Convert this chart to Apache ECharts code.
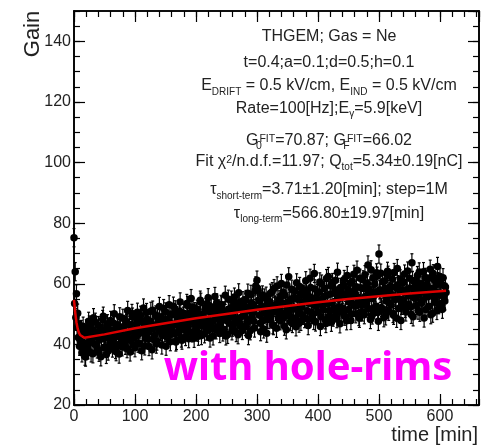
<!DOCTYPE html>
<html>
<head>
<meta charset="utf-8">
<script src="https://cdn.jsdelivr.net/npm/echarts@6.0.0/dist/echarts.min.js"></script>
<style>
  html, body { margin: 0; padding: 0; background: #fff; }
  #chart { width: 481px; height: 446px; }
</style>
</head>
<body>
<div id="chart"></div>
<script>
// Gain samples: one array for even minutes (t = 0, 2, 4, ...), one for odd minutes (t = 1, 3, 5, ...)
const gainEvenMin = [
  75.2, 64.0, 56.7, 50.3, 46.8, 41.2, 44.9, 38.6, 43.5, 36.1,
  45.1, 39.4, 47.6, 41.0, 37.2, 44.3, 48.8, 40.1, 43.7, 38.5,
  46.2, 41.5, 35.9, 44.8, 49.3, 42.0, 39.1, 45.7, 37.8, 43.9,
  47.9, 40.6, 44.2, 50.1, 38.3, 42.7, 46.5, 36.8, 45.3, 41.2,
  48.6, 43.1, 39.7, 46.9, 51.2, 41.8, 37.5, 44.6, 49.0, 42.3,
  38.9, 46.7, 50.6, 43.4, 40.2, 47.8, 44.1, 52.0, 39.5, 45.9,
  48.3, 41.7, 44.8, 50.9, 38.2, 46.4, 43.0, 49.7, 41.1, 47.2,
  52.5, 44.3, 39.8, 48.1, 45.6, 50.7, 42.4, 47.5, 53.1, 40.9,
  46.8, 49.9, 43.6, 51.4, 41.3, 48.2, 45.0, 54.0, 42.1, 47.7,
  50.3, 44.7, 46.9, 52.8, 41.9, 48.6, 55.1, 43.8, 47.4, 50.8,
  45.2, 51.6, 42.7, 49.4, 53.9, 46.1, 48.8, 43.5, 52.2, 47.0,
  55.4, 44.9, 50.6, 47.3, 42.8, 51.9, 48.4, 53.7, 45.8, 49.9,
  46.6, 52.9, 44.1, 50.4, 56.2, 47.9, 43.3, 51.5, 49.0, 54.6,
  45.7, 50.9, 53.4, 43.9, 48.3, 57.0, 46.2, 51.8, 44.6, 52.7,
  49.5, 54.8, 47.1, 42.9, 51.2, 56.5, 48.7, 53.0, 45.4, 59.3,
  61.2, 57.8, 49.6, 44.2, 52.5, 47.9, 55.3, 50.1, 43.7, 53.9,
  48.2, 56.9, 51.0, 46.5, 58.4, 52.8, 45.3, 50.6, 54.7, 47.8,
  60.1, 53.6, 48.9, 56.2, 44.8, 51.7, 62.3, 49.4, 55.0, 46.9,
  52.3, 57.6, 45.8, 54.9, 50.2, 59.1, 47.6, 53.8, 56.4, 48.5,
  61.0, 51.1, 46.2, 55.7, 58.8, 49.9, 53.2, 63.4, 47.4, 54.6,
  50.8, 57.3, 45.9, 59.9, 52.6, 55.8, 48.1, 61.7, 53.5, 49.2,
  56.6, 47.3, 60.4, 52.1, 58.0, 50.4, 63.8, 54.9, 46.8, 57.5,
  52.0, 59.6, 49.3, 56.1, 62.7, 51.5, 55.4, 47.9, 60.8, 53.3,
  57.9, 50.1, 64.5, 54.2, 48.6, 58.7, 52.9, 61.3, 49.8, 56.0,
  53.7, 66.2, 58.3, 48.2, 55.1, 61.9, 51.4, 57.0, 63.6, 50.5,
  69.8, 56.8, 52.2, 60.7, 48.8, 58.5, 54.3, 64.1, 50.9, 57.4,
  53.0, 61.5, 49.6, 58.9, 55.5, 65.0, 51.8, 57.7, 47.9, 60.2,
  54.6, 63.2, 50.7, 58.1, 56.0, 61.8, 52.4, 66.9, 49.1, 57.3,
  55.2, 60.6, 51.3, 63.9, 57.8, 53.6, 59.4, 48.7, 62.1, 55.9,
  58.6, 52.5, 64.8, 56.4, 50.3, 61.4, 54.8, 59.7, 65.7, 53.1,
  62.4, 56.2, 51.6, 59.5, 54.3, 57.1
];
const gainOddMin = [
  53.5, 48.9, 45.6, 42.3, 39.4, 44.1, 37.2, 46.0, 40.5, 35.8,
  43.0, 38.2, 46.4, 40.7, 44.9, 36.9, 42.5, 47.3, 39.6, 44.0,
  37.4, 45.5, 41.9, 48.2, 39.0, 43.6, 36.7, 46.8, 42.2, 40.3,
  44.6, 38.8, 47.0, 42.4, 37.6, 45.9, 40.0, 49.1, 43.3, 39.2,
  45.8, 40.9, 47.7, 38.6, 43.9, 46.3, 41.4, 50.2, 39.9, 44.7,
  42.6, 48.4, 40.4, 45.1, 49.6, 37.9, 44.3, 47.0, 42.0, 50.5,
  43.8, 39.3, 47.6, 45.2, 51.3, 41.6, 46.0, 40.1, 48.9, 44.5,
  46.2, 49.1, 42.9, 51.8, 44.0, 39.4, 48.3, 45.7, 43.1, 50.0,
  44.4, 52.6, 46.6, 40.8, 49.5, 43.7, 51.0, 46.2, 41.4, 49.3,
  47.2, 42.6, 53.5, 45.9, 50.2, 44.1, 48.9, 52.3, 42.0, 46.8,
  50.7, 44.0, 47.5, 54.6, 42.9, 49.8, 46.3, 51.2, 44.4, 53.3,
  47.8, 42.1, 52.4, 45.6, 50.0, 55.8, 44.8, 48.6, 51.7, 43.6,
  53.2, 48.2, 45.0, 51.1, 42.8, 49.5, 54.9, 47.0, 52.1, 44.5,
  49.2, 55.6, 47.4, 51.6, 43.2, 53.8, 48.9, 46.1, 54.4, 50.0,
  45.9, 52.4, 56.9, 48.1, 44.5, 53.7, 50.3, 47.6, 57.8, 52.0,
  58.5, 54.4, 47.0, 51.9, 56.3, 45.1, 50.7, 55.9, 48.3, 52.6,
  54.1, 49.5, 57.4, 46.2, 53.0, 50.9, 59.3, 48.6, 52.2, 56.0,
  50.3, 57.2, 46.0, 53.4, 59.6, 49.8, 54.2, 47.5, 58.2, 51.6,
  55.5, 48.7, 60.3, 51.8, 47.0, 56.7, 52.4, 49.6, 58.0, 54.3,
  57.5, 48.4, 53.6, 61.8, 50.7, 55.2, 47.9, 58.3, 52.5, 56.8,
  53.9, 60.6, 49.1, 55.0, 51.4, 58.4, 46.9, 56.2, 62.4, 51.0,
  59.3, 53.7, 49.0, 56.9, 61.2, 48.5, 55.5, 52.3, 58.8, 50.6,
  56.4, 61.4, 51.2, 47.8, 58.1, 54.0, 60.2, 50.0, 56.7, 63.1,
  52.6, 59.0, 55.7, 49.2, 61.8, 54.7, 50.7, 58.4, 63.0, 53.4,
  60.1, 51.8, 57.5, 64.6, 49.7, 55.9, 59.9, 52.6, 62.5, 47.6,
  58.0, 63.5, 51.3, 56.6, 60.9, 49.4, 55.2, 62.8, 53.6, 59.1,
  56.4, 50.2, 63.7, 54.8, 48.6, 59.7, 55.0, 61.6, 52.9, 57.9,
  60.5, 51.9, 56.8, 64.2, 53.3, 58.6, 49.9, 61.1, 55.4, 59.0,
  52.8, 62.7, 56.5, 50.6, 60.0, 54.5, 64.0, 57.6, 51.5, 59.8,
  55.8, 61.9, 49.8, 58.2, 63.3, 53.9, 57.4, 51.2, 60.7, 56.5,
  59.9, 53.5, 62.0, 55.7, 58.9
];
const gainError = 3.0;

// Fitted gain curve (two-time-constant model)
const fitTime = [0, 2, 4, 6, 8, 10, 13, 17, 20, 50, 100, 150, 200, 250, 300, 350, 400, 450, 500, 550, 610];
const fitGain = [54.7, 50.5, 47.3, 45.2, 43.9, 43.1, 42.5, 42.2, 42.2, 43.3, 45.3, 47.0, 48.6, 50.0, 51.4, 52.7, 53.9, 55.0, 55.9, 56.8, 57.7];

const timeTicks = [0, 100, 200, 300, 400, 500, 600];
const gainTicks = [20, 40, 60, 80, 100, 120, 140];
const timeRange = [0, 664];
const gainRange = [20, 150];

const infoLines = [
  '{m|THGEM; Gas = Ne}',
  '{m|t=0.4;a=0.1;d=0.5;h=0.1}',
  '{m|E}{sub|DRIFT}{m| = 0.5 kV/cm, E}{sub|IND}{m| = 0.5 kV/cm}',
  '{m|Rate=100[Hz];E}{sub|γ}{m|=5.9[keV]}',
  '{m|G}{subz|0}{sup|FIT}{m|=70.87; G}{subz|F}{sup|FIT}{m|=66.02}',
  '{m|Fit χ}{sup|2}{m|/n.d.f.=11.97; Q}{sub|tot}{m|=5.34±0.19[nC]}',
  '{m|τ}{sub|short-term}{m|=3.71±1.20[min]; step=1M}',
  '{m|τ}{sub|long-term}{m|=566.80±19.97[min]}'
];
const infoY = [36.5, 62.5, 86, 108.5, 141, 161.5, 190, 213.5];

const FONT = '"Liberation Sans", Arial, sans-serif';
const INK = '#222';

const points = gainEvenMin.map((g, i) => [2 * i, g])
  .concat(gainOddMin.map((g, i) => [2 * i + 1, g]));
const fitLine = fitTime.map((t, i) => [t, fitGain[i]]);

const richStyles = {
  m: { fontSize: 16, lineHeight: 22, fontFamily: FONT, fill: INK },
  sub: { fontSize: 10, lineHeight: 10, verticalAlign: 'bottom', fontFamily: FONT, fill: INK },
  subz: { fontSize: 10.5, lineHeight: 10, width: 1, verticalAlign: 'bottom', fontFamily: FONT, fill: INK },
  sup: { fontSize: 10.5, lineHeight: 10, padding: [4, 0, 0, 0], verticalAlign: 'top', fontFamily: FONT, fill: INK }
};

function xAxisDef(pos, interval, tickLen, labels) {
  return {
    type: 'value', position: pos, min: timeRange[0], max: timeRange[1], interval: interval,
    axisLine: { show: true, onZero: false, lineStyle: { color: '#000', width: 1.6 } },
    axisTick: { show: true, inside: true, length: tickLen, lineStyle: { color: '#000', width: 1.2 } },
    axisLabel: labels ? {
      show: true, margin: 4, fontSize: 16, fontFamily: FONT, color: INK, showMaxLabel: false,
      formatter: v => (timeTicks.indexOf(v) >= 0 ? String(v) : '')
    } : { show: false },
    splitLine: { show: false }
  };
}
function yAxisDef(pos, interval, tickLen, labels) {
  return {
    type: 'value', position: pos, min: gainRange[0], max: gainRange[1], interval: interval,
    axisLine: { show: true, onZero: false, lineStyle: { color: '#000', width: 1.6 } },
    axisTick: { show: true, inside: true, length: tickLen, lineStyle: { color: '#000', width: 1.2 } },
    axisLabel: labels ? {
      show: true, margin: 3, fontSize: 16, fontFamily: FONT, color: INK, showMaxLabel: false,
      formatter: v => (gainTicks.indexOf(v) >= 0 ? String(v) : '')
    } : { show: false },
    splitLine: { show: false }
  };
}

const chart = echarts.init(document.getElementById('chart'), null, { renderer: 'canvas' });
chart.setOption({
  animation: false,
  backgroundColor: '#fff',
  grid: { left: 74, right: 2, top: 11, bottom: 41, containLabel: false },
  xAxis: [
    xAxisDef('bottom', 100, 11, true),
    xAxisDef('bottom', 20, 6, false),
    xAxisDef('top', 100, 11, false),
    xAxisDef('top', 20, 6, false)
  ],
  yAxis: [
    yAxisDef('left', 20, 11, true),
    yAxisDef('left', 5, 6, false),
    yAxisDef('right', 20, 11, false),
    yAxisDef('right', 5, 6, false)
  ],
  series: [
    {
      type: 'custom',
      name: 'errors',
      data: points,
      silent: true,
      renderItem: function (params, api) {
        const t = api.value(0), g = api.value(1);
        const hi = api.coord([t, g + gainError]);
        const lo = api.coord([t, g - gainError]);
        const style = { stroke: '#000', lineWidth: 1.2 };
        return {
          type: 'group',
          children: [
            { type: 'line', shape: { x1: hi[0], y1: hi[1], x2: lo[0], y2: lo[1] }, style: style },
            { type: 'line', shape: { x1: hi[0] - 1.5, y1: hi[1], x2: hi[0] + 1.5, y2: hi[1] }, style: style },
            { type: 'line', shape: { x1: lo[0] - 1.5, y1: lo[1], x2: lo[0] + 1.5, y2: lo[1] }, style: style }
          ]
        };
      }
    },
    {
      type: 'scatter',
      name: 'gain',
      data: points,
      symbol: 'circle',
      symbolSize: 7.5,
      large: false,
      itemStyle: { color: '#000', opacity: 1 },
      silent: true
    },
    {
      type: 'line',
      name: 'fit',
      data: fitLine,
      showSymbol: false,
      smooth: false,
      lineStyle: { color: '#dd0000', width: 2.5 },
      silent: true,
      z: 5
    }
  ],
  graphic: [
    ...infoLines.map((txt, i) => ({
      type: 'text', x: 329, y: infoY[i], silent: true,
      style: { text: txt, rich: richStyles, align: 'center', verticalAlign: 'middle', fill: INK }
    })),
    {
      type: 'text', x: 33, y: 34, rotation: Math.PI / 2, silent: true,
      style: { text: 'Gain', font: '22px ' + FONT, fill: INK, align: 'center', verticalAlign: 'middle' }
    },
    {
      type: 'text', x: 478, y: 435, silent: true,
      style: { text: 'time [min]', font: '20px ' + FONT, fill: INK, align: 'right', verticalAlign: 'middle' }
    },
    {
      type: 'text', x: 308, y: 369, silent: true,
      style: { text: 'with hole-rims', font: 'bold 40px "Noto Sans", sans-serif', fill: '#ff00ff', align: 'center', verticalAlign: 'middle' }
    }
  ]
});
</script>
</body>
</html>
